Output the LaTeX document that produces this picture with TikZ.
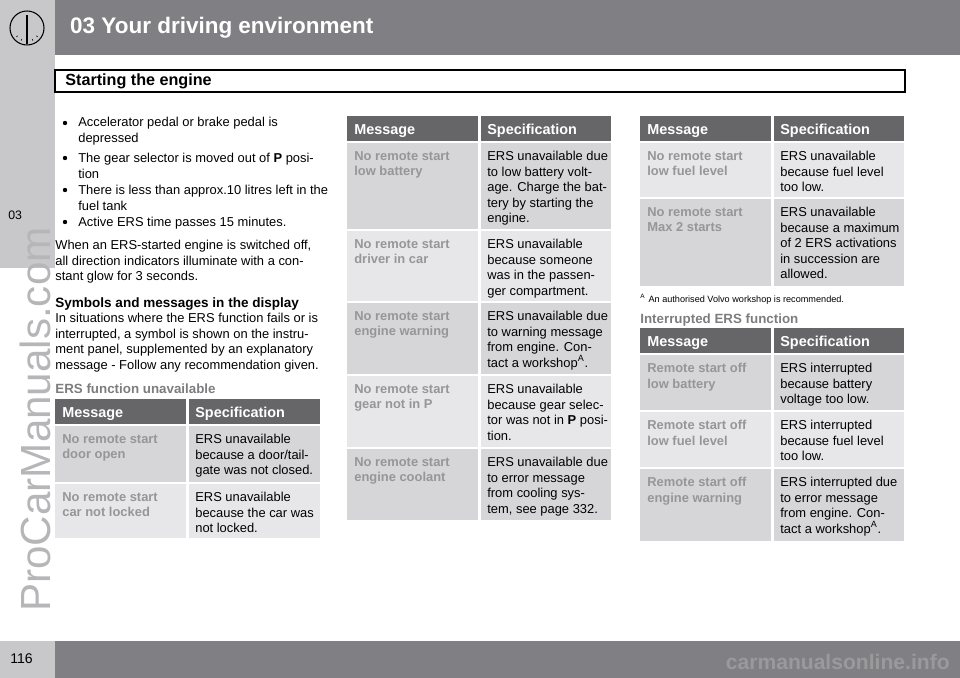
\documentclass[tikz,border=0pt]{standalone}
\usepackage{fontspec}
\setmainfont{Liberation Sans}
\usetikzlibrary{positioning, calc}

\definecolor{bardark}{RGB}{128,128,132}
\definecolor{barlight}{RGB}{200,200,202}
\definecolor{headgray}{RGB}{102,102,104}
\definecolor{rowdark}{RGB}{214,214,216}
\definecolor{rowlight}{RGB}{231,231,233}
\definecolor{msggray}{RGB}{150,150,152}
\definecolor{subgray}{RGB}{125,125,128}

\tikzset{
    body/.style={anchor=north west, inner sep=0pt, align=left, font=\fontsize{7.35}{8.8}\selectfont},
    msg/.style={body, text=msggray, font=\fontsize{7.35}{8.8}\selectfont\bfseries},
    colhead/.style={anchor=base west, inner sep=0pt, text=white, font=\fontsize{8.2}{9}\selectfont\bfseries},
    subhead/.style={anchor=north west, inner sep=0pt, text=subgray, font=\fontsize{7.6}{9}\selectfont\bfseries}
}

% one table row: x left, x split, x right, y top, y bottom, fill, name, message, specification
\newcommand{\ersrow}[9]{%
    \fill[#6] (#1,#4) rectangle (#2-1.5,#5);
    \fill[#6] (#2+1.5,#4) rectangle (#3,#5);
    \node[msg] (#7m) at (#1+7,#4+8) {#8};
    \node[body] (#7s) at (#2+8,#4+8) {#9};
}
\newcommand{\ershead}[6]{%
    \fill[headgray] (#1,#4) rectangle (#2-1.5,#5);
    \fill[headgray] (#2+1.5,#4) rectangle (#3,#5);
    \node[colhead] (#6m) at (#1+7,{(#4+#5)/2+6}) {Message};
    \node[colhead] (#6s) at (#2+8,{(#4+#5)/2+6}) {Specification};
}

\begin{document}
\begin{tikzpicture}[x=0.02cm, y=-0.02cm]
    \useasboundingbox (0,0) rectangle (960,678);

    % header bar
    \fill[bardark] (55,0) rectangle (960,55);
    \fill[barlight] (0,0) rectangle (55,55);
    \draw[line width=0.6pt] (27,28) circle (17);
    \draw[line width=1.2pt] (27,44) -- (27,15);
    \foreach \a in {40,65,90,115,140}
        \draw[line width=0.3pt] ($(27,28)+(\a:14)$) -- ($(27,28)+(\a:12)$);
    \node[anchor=west, text=white, font=\fontsize{12.8}{14}\selectfont\bfseries] (title) at (64,28) {03 Your driving environment};

    % chapter tab and watermark
    \fill[barlight] (0,55) rectangle (55,268);
    \node[anchor=north west, inner sep=0pt, font=\fontsize{7}{8}\selectfont] (tab) at (8,211) {03};
    \node[rotate=90, anchor=south west, inner sep=0pt, text=barlight!75!bardark, font=\fontsize{24}{26}\selectfont] (mark) at (51,612) {ProCarManuals.com};

    % section box
    \draw[line width=0.8pt] (55,70) rectangle (905,92);
    \node[anchor=west, inner sep=0pt, font=\fontsize{9.2}{10}\selectfont\bfseries] (section) at (65,81) {Starting the engine};

    % left column text
    \foreach \y in {123,158,190,222}
        \fill (65,\y) circle (2.2);
    \node[body] (b1) at (78,117) {Accelerator pedal or brake pedal is\\depressed};
    \node[body] (b2) at (78,153) {The gear selector is moved out of \textbf{P} posi-\\tion};
    \node[body] (b3) at (78,185) {There is less than approx.10 litres left in the\\fuel tank};
    \node[body] (b4) at (78,217) {Active ERS time passes 15 minutes.};
    \node[body] (p1) at (55,240) {When an ERS-started engine is switched off,\\all direction indicators illuminate with a con-\\stant glow for 3 seconds.};
    \node[body, font=\fontsize{7.7}{8.8}\selectfont\bfseries] (symhead) at (55,297) {Symbols and messages in the display};
    \node[body] (p2) at (55,313) {In situations where the ERS function fails or is\\interrupted, a symbol is shown on the instru-\\ment panel, supplemented by an explanatory\\message - Follow any recommendation given.};
    \node[subhead] (unav) at (55,383) {ERS function unavailable};

    % table: unavailable, left
    \ershead{55}{187}{320}{399}{424}{ta}
    \ersrow{55}{187}{320}{426}{482}{rowdark}{taa}{No remote start\\door open}{ERS unavailable\\because a door/tail-\\gate was not closed.}
    \ersrow{55}{187}{320}{484}{538}{rowlight}{tab}{No remote start\\car not locked}{ERS unavailable\\because the car was\\not locked.}

    % table: unavailable, middle
    \ershead{347}{479}{611}{116}{141}{tb}
    \ersrow{347}{479}{611}{143}{229}{rowdark}{tba}{No remote start\\low battery}{ERS unavailable due\\to low battery volt-\\age. Charge the bat-\\tery by starting the\\engine.}
    \ersrow{347}{479}{611}{231}{301}{rowlight}{tbb}{No remote start\\driver in car}{ERS unavailable\\because someone\\was in the passen-\\ger compartment.}
    \ersrow{347}{479}{611}{303}{374}{rowdark}{tbc}{No remote start\\engine warning}{ERS unavailable due\\to warning message\\from engine. Con-\\tact a workshop\textsuperscript{A}.}
    \ersrow{347}{479}{611}{376}{447}{rowlight}{tbd}{No remote start\\gear not in P}{ERS unavailable\\because gear selec-\\tor was not in \textbf{P} posi-\\tion.}
    \ersrow{347}{479}{611}{449}{520}{rowdark}{tbe}{No remote start\\engine coolant}{ERS unavailable due\\to error message\\from cooling sys-\\tem, see page 332.}

    % table: unavailable, right
    \ershead{640}{772}{904}{116}{141}{tc}
    \ersrow{640}{772}{904}{143}{197}{rowlight}{tca}{No remote start\\low fuel level}{ERS unavailable\\because fuel level\\too low.}
    \ersrow{640}{772}{904}{199}{286}{rowdark}{tcb}{No remote start\\Max 2 starts}{ERS unavailable\\because a maximum\\of 2 ERS activations\\in succession are\\allowed.}
    \node[anchor=north west, inner sep=0pt, font=\fontsize{5.2}{6}\selectfont] (foot) at (640,294) {\textsuperscript{A}\,\,An authorised Volvo workshop is recommended.};

    % table: interrupted
    \node[subhead] (intr) at (640,313) {Interrupted ERS function};
    \ershead{640}{772}{904}{328}{353}{td}
    \ersrow{640}{772}{904}{355}{410}{rowdark}{tda}{Remote start off\\low battery}{ERS interrupted\\because battery\\voltage too low.}
    \ersrow{640}{772}{904}{412}{467}{rowlight}{tdb}{Remote start off\\low fuel level}{ERS interrupted\\because fuel level\\too low.}
    \ersrow{640}{772}{904}{469}{541}{rowdark}{tdc}{Remote start off\\engine warning}{ERS interrupted due\\to error message\\from engine. Con-\\tact a workshop\textsuperscript{A}.}

    % footer bar
    \fill[bardark] (55,641) rectangle (960,678);
    \fill[barlight] (0,641) rectangle (55,678);
    \node[anchor=west, inner sep=0pt, font=\fontsize{8}{9}\selectfont] (page) at (10,659) {116};
    \node[anchor=east, inner sep=0pt, text=bardark!80!white, font=\fontsize{12}{13}\selectfont\bfseries] (mark2) at (950,662) {carmanualsonline.info};
\end{tikzpicture}
\end{document}
